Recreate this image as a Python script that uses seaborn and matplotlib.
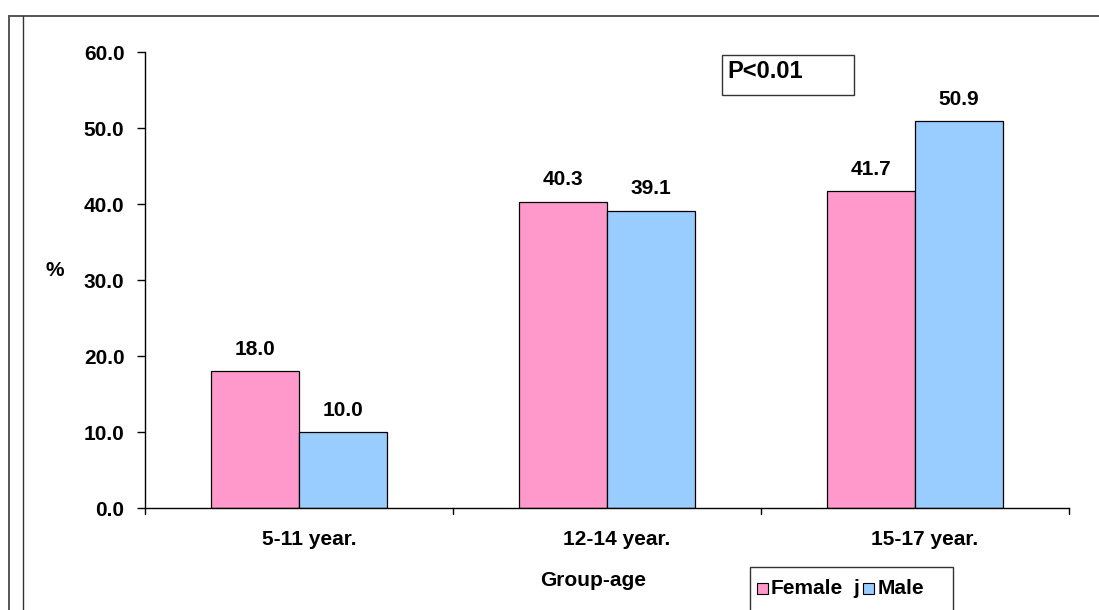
import matplotlib
matplotlib.use("Agg")
import matplotlib.pyplot as plt
from matplotlib.patches import Rectangle
from matplotlib.transforms import ScaledTranslation
import seaborn as sns
import pandas as pd

groups = ["5-11 year.", "12-14 year.", "15-17 year."]
female = [18.0, 40.3, 41.7]
male = [10.0, 39.1, 50.9]
sexes = ["Female", "Male"]
colors = {"Female": "#FF99CC", "Male": "#99CCFF"}

df = pd.DataFrame({
    "group": groups * 2,
    "sex": ["Female"] * 3 + ["Male"] * 3,
    "value": female + male,
})

sns.set_theme(style="white")
plt.rcParams["font.family"] = ["Liberation Sans", "DejaVu Sans"]
for key in ["text.color", "axes.labelcolor", "xtick.color", "ytick.color"]:
    plt.rcParams[key] = "black"

FS = 15
W, H = 1099, 610
fig = plt.figure(figsize=(W / 100, H / 100), dpi=100)
ax = fig.add_axes([145 / W, 1 - 508 / H, (1069 - 145) / W, (508 - 52) / H])

sns.barplot(data=df, x="group", y="value", hue="sex", hue_order=sexes,
            palette=colors, width=0.571, edgecolor="black", linewidth=0.9,
            saturation=1, legend=False, ax=ax)

ax.set_xlim(-0.5, 2.5)
ax.set_ylim(0, 60)
ax.set_yticks(range(0, 61, 10))
ax.set_yticklabels([f"{v:.1f}" for v in range(0, 61, 10)],
                   fontsize=FS, fontweight="bold")
ax.set_xticks([0, 1, 2])
ax.set_xticklabels(groups, fontsize=FS, fontweight="bold")
ax.tick_params(axis="x", length=0, pad=16)
ax.tick_params(axis="y", direction="out", length=5.8, width=1, color="black",
               left=True, pad=9)
shift = ScaledTranslation(10 / 100, 0, fig.dpi_scale_trans)
for lab in ax.get_xticklabels():
    lab.set_transform(lab.get_transform() + shift)

# category boundary ticks on the x axis
for xb in [-0.5, 0.5, 1.5, 2.5]:
    ax.plot([xb, xb], [0, -0.8], color="black", lw=1, clip_on=False)

for side in ["top", "right"]:
    ax.spines[side].set_visible(False)
for side in ["left", "bottom"]:
    ax.spines[side].set_color("black")
    ax.spines[side].set_linewidth(1)

# value labels above bars
for container in ax.containers:
    ax.bar_label(container, fmt="%.1f", padding=9, fontsize=FS,
                 fontweight="bold")

ax.set_xlabel("")
ax.set_ylabel("")
fig.text(593 / W, 1 - 580 / H, "Group-age", ha="center", va="center",
         fontsize=FS, fontweight="bold")
fig.text(55 / W, 1 - 270 / H, "%", ha="center", va="center",
         fontsize=FS, fontweight="bold")

# P-value box
fig.patches.append(Rectangle((722 / W, 1 - 95 / H), (854 - 722) / W, (95 - 55) / H,
                             transform=fig.transFigure, fill=False,
                             edgecolor="#333333", lw=1))
fig.text(727 / W, 1 - 71 / H, "P<0.01", ha="left", va="center",
         fontsize=17, fontweight="bold")

# legend box
fig.patches.append(Rectangle((750 / W, -0.05), (953 - 750) / W, 0.05 + (1 - 567 / H),
                             transform=fig.transFigure, fill=False,
                             edgecolor="#333333", lw=1))
for name, sx, tx in [("Female", 757, 771), ("Male", 863, 878)]:
    fig.patches.append(Rectangle((sx / W, 1 - 594 / H), 11 / W, 11 / H,
                                 transform=fig.transFigure,
                                 facecolor=colors[name], edgecolor="black", lw=0.8))
    fig.text(tx / W, 1 - 589 / H, name, ha="left", va="center",
             fontsize=FS, fontweight="bold")
fig.text(853 / W, 1 - 589 / H, "j", ha="left", va="center",
         fontsize=FS, fontweight="bold")

# outer chart frame
fig.patches.append(Rectangle((9 / W, -0.05), 1.2, 0.05 + (1 - 16 / H),
                             transform=fig.transFigure, fill=False,
                             edgecolor="#555555", lw=1.4))
fig.lines.append(plt.Line2D([23 / W, 23 / W], [0, 1 - 16 / H],
                            transform=fig.transFigure, color="#333333", lw=1))

fig.savefig("out.png", dpi=100, facecolor="white")
